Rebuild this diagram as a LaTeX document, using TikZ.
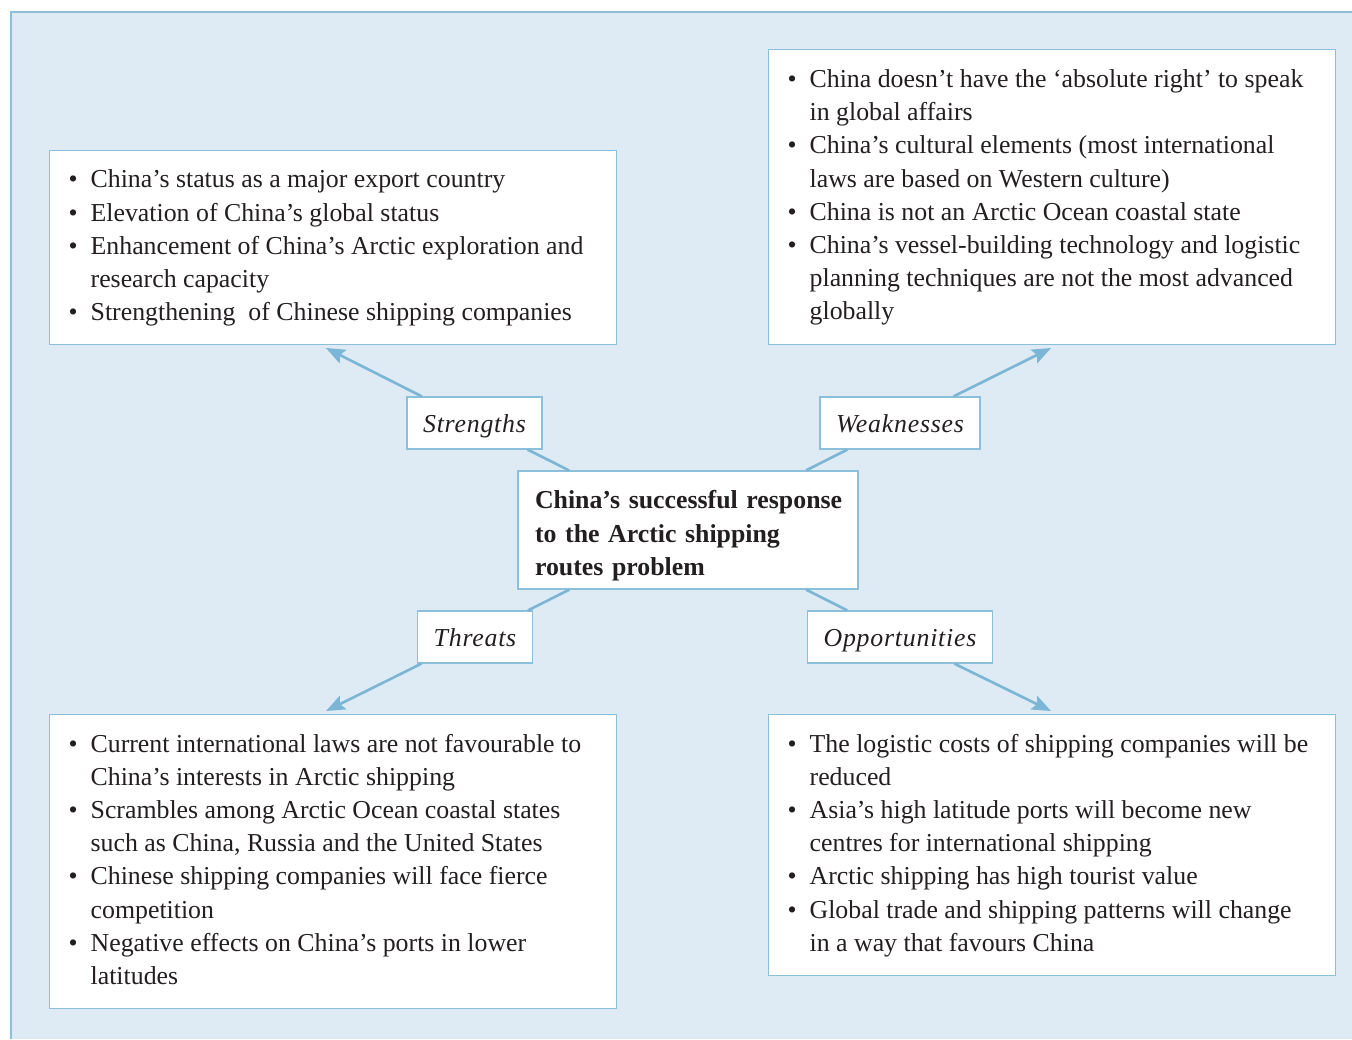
\documentclass[tikz,border=0pt]{standalone}
\usepackage{fontspec}
\setmainfont{Liberation Serif}
\newfontfamily\tagfont[LetterSpace=3]{Liberation Serif}
\usetikzlibrary{arrows.meta}
\definecolor{panelblue}{HTML}{DFEBF4}
\definecolor{edgeblue}{HTML}{8CBFDA}
\definecolor{arrowblue}{HTML}{7BB6D6}
\definecolor{inkgrey}{HTML}{231F20}
\newcommand{\blist}[1]{\begin{tabular}{@{}l@{\hspace{7.4pt}}p{10.14cm}@{}}#1\end{tabular}}
\begin{document}
\begin{tikzpicture}[x=0.02cm, y=-0.02cm,
    every node/.style={text=inkgrey, font=\fontsize{14.7}{18.9}\selectfont},
    listbox/.style={draw=edgeblue, line width=0.7pt, fill=white, anchor=north west,
        inner xsep=0.38cm, inner ysep=0pt, minimum width=11.34cm},
    tagbox/.style={draw=edgeblue, line width=0.7pt, fill=white, inner xsep=0.32cm,
        inner ysep=0pt, minimum height=1.04cm, text height=14pt, text depth=3pt,
        font=\fontsize{14.7}{18.9}\selectfont\tagfont\itshape},
    link/.style={arrowblue, line width=1.5pt},
    tip/.style={-{Stealth[length=0.38cm, width=0.3cm, inset=0.07cm]}}]
\useasboundingbox (0,0) rectangle (1352,1039);
\fill[panelblue] (11,12) rectangle (1352,1039);
\draw[edgeblue, line width=1.1pt] (11,1039) -- (11,12) -- (1352,12);

% the four lists
\node[listbox, minimum height=3.88cm] (slist) at (49,150) {\blist{
  \textbullet & China’s status as a major export country\\
  \textbullet & Elevation of China’s global status\\
  \textbullet & Enhancement of China’s Arctic exploration and\\
              & research capacity\\
  \textbullet & Strengthening\ \ of Chinese shipping companies}};
\node[listbox, minimum height=5.9cm] (wlist) at (768,49) {\blist{
  \textbullet & China doesn’t have the ‘absolute right’ to speak\\
              & in global affairs\\
  \textbullet & China’s cultural elements (most international\\
              & laws are based on Western culture)\\
  \textbullet & China is not an Arctic Ocean coastal state\\
  \textbullet & China’s vessel-building technology and logistic\\
              & planning techniques are not the most advanced\\
              & globally}};
\node[listbox, minimum height=5.88cm] (tlist) at (49,714) {\blist{
  \textbullet & Current international laws are not favourable to\\
              & China’s interests in Arctic shipping\\
  \textbullet & Scrambles among Arctic Ocean coastal states\\
              & such as China, Russia and the United States\\
  \textbullet & Chinese shipping companies will face fierce\\
              & competition\\
  \textbullet & Negative effects on China’s ports in lower\\
              & latitudes}};
\node[listbox, minimum height=5.22cm] (olist) at (768,714) {\blist{
  \textbullet & The logistic costs of shipping companies will be\\
              & reduced\\
  \textbullet & Asia’s high latitude ports will become new\\
              & centres for international shipping\\
  \textbullet & Arctic shipping has high tourist value\\
  \textbullet & Global trade and shipping patterns will change\\
              & in a way that favours China}};

% centre and labels
\node[draw=edgeblue, line width=0.7pt, fill=white, text width=6.12cm, align=left,
  inner xsep=0.34cm, inner ysep=0pt, minimum height=2.36cm, font=\fontsize{14.7}{19.2}\selectfont\bfseries]
  (core) at (688,530) {\rule{0pt}{17pt}\mbox{China’s successful response}\\\mbox{to the Arctic shipping}\\\mbox{routes problem}};
\node[tagbox] (str) at (474.5,423) {Strengths};
\node[tagbox] (weak) at (900,423) {Weaknesses};
\node[tagbox] (thr) at (475,637) {Threats};
\node[tagbox] (opp) at (900,637) {Opportunities};

\coordinate (strtip) at (326,348);
\coordinate (weaktip) at (1051,348);
\coordinate (thrtip) at (326,711);
\coordinate (opptip) at (1051,711);

\draw[link] (core) -- (str);
\draw[link, tip] (str) -- (strtip);
\draw[link] (core) -- (weak);
\draw[link, tip] (weak) -- (weaktip);
\draw[link] (core) -- (thr);
\draw[link, tip] (thr) -- (thrtip);
\draw[link] (core) -- (opp);
\draw[link, tip] (opp) -- (opptip);
\end{tikzpicture}
\end{document}
